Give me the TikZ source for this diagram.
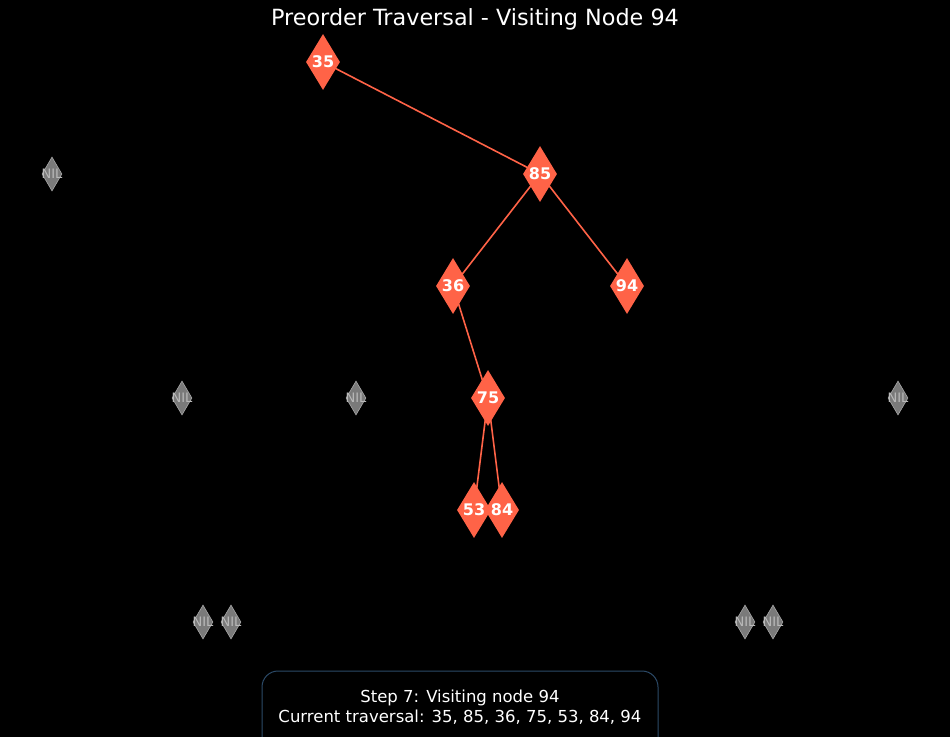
\documentclass[tikz,border=0pt]{standalone}
\usepackage{fontspec}
\setmainfont{DejaVu Sans}
\usetikzlibrary{shapes.geometric}
\definecolor{tomatoc}{HTML}{FF6347}
\definecolor{nilfill}{HTML}{7A7A7A}
\definecolor{nildraw}{HTML}{A8A8A8}
\definecolor{boxedge}{HTML}{2C4A68}
\pgfdeclarelayer{bg}
\pgfdeclarelayer{edges}
\pgfsetlayers{bg,edges,main}
\tikzset{
  treenode/.style={diamond, fill=tomatoc, draw=none, inner sep=0pt, aspect=0.607,
    minimum width=34pt, minimum height=56pt},
  nilnode/.style={diamond, fill=nilfill, draw=nildraw, line width=0.6pt, inner sep=0pt,
    minimum width=20pt, minimum height=34pt},
  treelabel/.style={text=white, font=\bfseries\fontsize{16}{16}\selectfont, inner sep=0pt},
  nillabel/.style={text=nildraw!80!white, font=\fontsize{13}{13}\selectfont, inner sep=0pt},
  treeedge/.style={draw=tomatoc, line width=1.6pt},
}
\begin{document}
\begin{tikzpicture}[x=1pt,y=-1pt]
\useasboundingbox (0,0) rectangle (950,736);
\begin{pgfonlayer}{bg}
\fill[black] (-10,-10) rectangle (960,760);
\end{pgfonlayer}
\clip (0,0) rectangle (950,736);
\node[text=white, font=\fontsize{22.3}{22.3}\selectfont] (title) at (475,19) {Preorder Traversal - Visiting Node 94};
% tree nodes
\node[treenode] (n35) at (323,62) {};
\node[treenode] (n85) at (540,174) {};
\node[treenode] (n36) at (453,286) {};
\node[treenode] (n94) at (627,286) {};
\node[treenode] (n75) at (488,398) {};
\node[treenode] (n53) at (474,510) {};
\node[treenode] (n84) at (502,510) {};
\foreach \n in {35,85,36,94,75,53,84} {\node[treelabel] (l\n) at (n\n) {\n};}
% NIL nodes
\foreach \i/\x/\y in {1/52/174, 2/182/398, 3/356/398, 4/898/398, 5/203/622, 6/231/622, 7/745/622, 8/773/622} {
  \node[nilnode] (nil\i) at (\x,\y) {};
  \node[nillabel] (nl\i) at (nil\i) {NIL};
}
% edges
\begin{pgfonlayer}{edges}
\draw[treeedge] (n35.center) -- (n85.center);
\draw[treeedge] (n85.center) -- (n36.center);
\draw[treeedge] (n85.center) -- (n94.center);
\draw[treeedge] (n36.center) -- (n75.center);
\draw[treeedge] (n75.center) -- (n53.center);
\draw[treeedge] (n75.center) -- (n84.center);
\end{pgfonlayer}
% status box
\draw[boxedge, line width=1pt, rounded corners=16pt, fill=black] (262,671) rectangle (658,790);
\node[text=white, font=\fontsize{16.5}{20.5}\selectfont, align=center] (status) at (460,707)
  {Step 7: Visiting node 94\\Current traversal: 35, 85, 36, 75, 53, 84, 94};
\end{tikzpicture}
\end{document}
